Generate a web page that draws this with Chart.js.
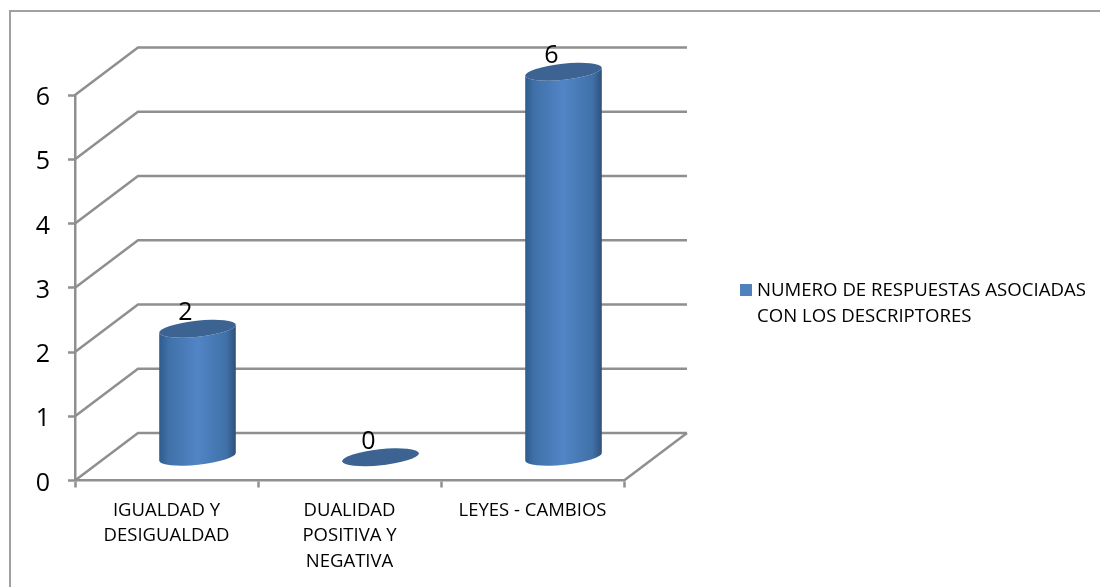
<!DOCTYPE html>
<html>
<head>
<meta charset="utf-8">
<style>
  html, body { margin: 0; padding: 0; background: #fff; overflow: hidden; }
  canvas { display: block; }
</style>
<script src="https://cdn.jsdelivr.net/npm/chart.js@4/dist/chart.umd.min.js"></script>
</head>
<body>
<canvas id="chart" width="1100" height="587"></canvas>
<script>
const categories = [['IGUALDAD Y', 'DESIGUALDAD'], ['DUALIDAD', 'POSITIVA Y', 'NEGATIVA'], 'LEYES - CAMBIOS'];
const respuestas = [2, 0, 6];
const seriesName = ['NUMERO DE RESPUESTAS ASOCIADAS', 'CON LOS DESCRIPTORES'];

const FONT = '"Open Sans", Lato, sans-serif';
const LINE = '#8f8f8f';
const DEPTH_X = 63;
const DEPTH_Y = 47.5;
const SLANT = -6 * Math.PI / 180;

// back wall and floor of the fake 3d box
const wallPlugin = {
  id: 'wall',
  beforeDatasetsDraw(chart) {
    const { ctx, chartArea, scales } = chart;
    ctx.save();
    ctx.strokeStyle = LINE;
    ctx.lineWidth = 2.5;
    for (const tick of scales.y.ticks) {
      const y = scales.y.getPixelForValue(tick.value);
      ctx.beginPath();
      ctx.moveTo(chartArea.left, y);
      ctx.lineTo(chartArea.left + DEPTH_X, y - DEPTH_Y);
      ctx.lineTo(chartArea.right + DEPTH_X, y - DEPTH_Y);
      ctx.stroke();
    }
    ctx.beginPath();
    ctx.moveTo(chartArea.right, chartArea.bottom);
    ctx.lineTo(chartArea.right + DEPTH_X, chartArea.bottom - DEPTH_Y);
    ctx.stroke();
    ctx.restore();
  },
};

// the bars themselves are transparent, each one is redrawn as a cylinder
const cylinderPlugin = {
  id: 'cylinder',
  afterDatasetsDraw(chart) {
    const { ctx } = chart;
    const bars = chart.getDatasetMeta(0).data;
    bars.forEach((bar, i) => {
      const cx = bar.x + DEPTH_X / 2 - 0.5;
      const top = bar.y - DEPTH_Y / 2 + 0.5;
      const bottom = bar.base - DEPTH_Y / 2 + 0.5;
      const rx = bar.width / 2;
      const ry = 8;

      const grad = ctx.createLinearGradient(cx - rx, 0, cx + rx, 0);
      grad.addColorStop(0, '#2f5b8c');
      grad.addColorStop(0.12, '#3f70a8');
      grad.addColorStop(0.5, '#5285c6');
      grad.addColorStop(0.88, '#3f70a8');
      grad.addColorStop(1, '#2e5078');

      ctx.save();
      ctx.beginPath();
      ctx.ellipse(cx, top, rx, ry, SLANT, Math.PI, 0, true);
      ctx.ellipse(cx, bottom, rx, ry, SLANT, 0, Math.PI, false);
      ctx.closePath();
      ctx.fillStyle = grad;
      ctx.fill();

      ctx.beginPath();
      ctx.ellipse(cx, top, rx, ry, SLANT, 0, Math.PI * 2);
      ctx.fillStyle = '#3c6391';
      ctx.fill();

      ctx.fillStyle = '#000';
      ctx.font = '25px ' + FONT;
      ctx.textAlign = 'center';
      ctx.textBaseline = 'middle';
      ctx.fillText(String(respuestas[i]), cx - 12, top - 15.5);
      ctx.restore();
    });
  },
};

// frame and legend, the legend text needs two lines
const framePlugin = {
  id: 'frame',
  beforeDraw(chart) {
    const { ctx, width, height } = chart;
    ctx.save();
    ctx.fillStyle = '#fff';
    ctx.fillRect(0, 0, width, height);
    ctx.strokeStyle = '#a0a0a0';
    ctx.lineWidth = 2;
    ctx.beginPath();
    ctx.moveTo(10, height);
    ctx.lineTo(10, 11);
    ctx.lineTo(width, 11);
    ctx.stroke();
    ctx.restore();

    // y labels sit a little under their tick in the original
    chart.scales.y.getLabelItems().forEach((item) => { item.textOffset = 3; });
  },
  afterDraw(chart) {
    const { ctx } = chart;
    ctx.save();
    ctx.fillStyle = '#4f81bd';
    ctx.fillRect(740, 284, 12, 12);
    ctx.fillStyle = '#000';
    ctx.font = '18.6px ' + FONT;
    ctx.textBaseline = 'middle';
    seriesName.forEach((line, i) => ctx.fillText(line, 757, 291 + i * 26));
    ctx.restore();
  },
};

new Chart(document.getElementById('chart'), {
  type: 'bar',
  data: {
    labels: categories,
    datasets: [{
      label: seriesName.join(' '),
      data: respuestas,
      backgroundColor: 'transparent',
      barThickness: 77,
    }],
  },
  options: {
    responsive: false,
    animation: false,
    layout: { padding: { left: 0, right: 476, top: 95, bottom: 0 } },
    plugins: { legend: { display: false }, tooltip: { enabled: false } },
    scales: {
      x: {
        afterFit(scale) { scale.height = 106.5; },
        grid: { drawOnChartArea: false, tickLength: 7, tickColor: LINE, tickWidth: 2.5 },
        border: { color: LINE, width: 2.5 },
        ticks: {
          color: '#000',
          autoSkip: false,
          maxRotation: 0,
          padding: 10,
          font: { family: FONT, size: 18.5, lineHeight: 25.7 / 18.5 },
        },
      },
      y: {
        min: 0,
        max: 6,
        afterFit(scale) { scale.width = 75; },
        grid: { drawOnChartArea: false, tickLength: 7, tickColor: LINE, tickWidth: 2.5 },
        border: { color: LINE, width: 2.5 },
        ticks: {
          color: '#000',
          stepSize: 1,
          padding: 18,
          font: { family: FONT, size: 25 },
        },
      },
    },
  },
  plugins: [framePlugin, wallPlugin, cylinderPlugin],
});
</script>
</body>
</html>
